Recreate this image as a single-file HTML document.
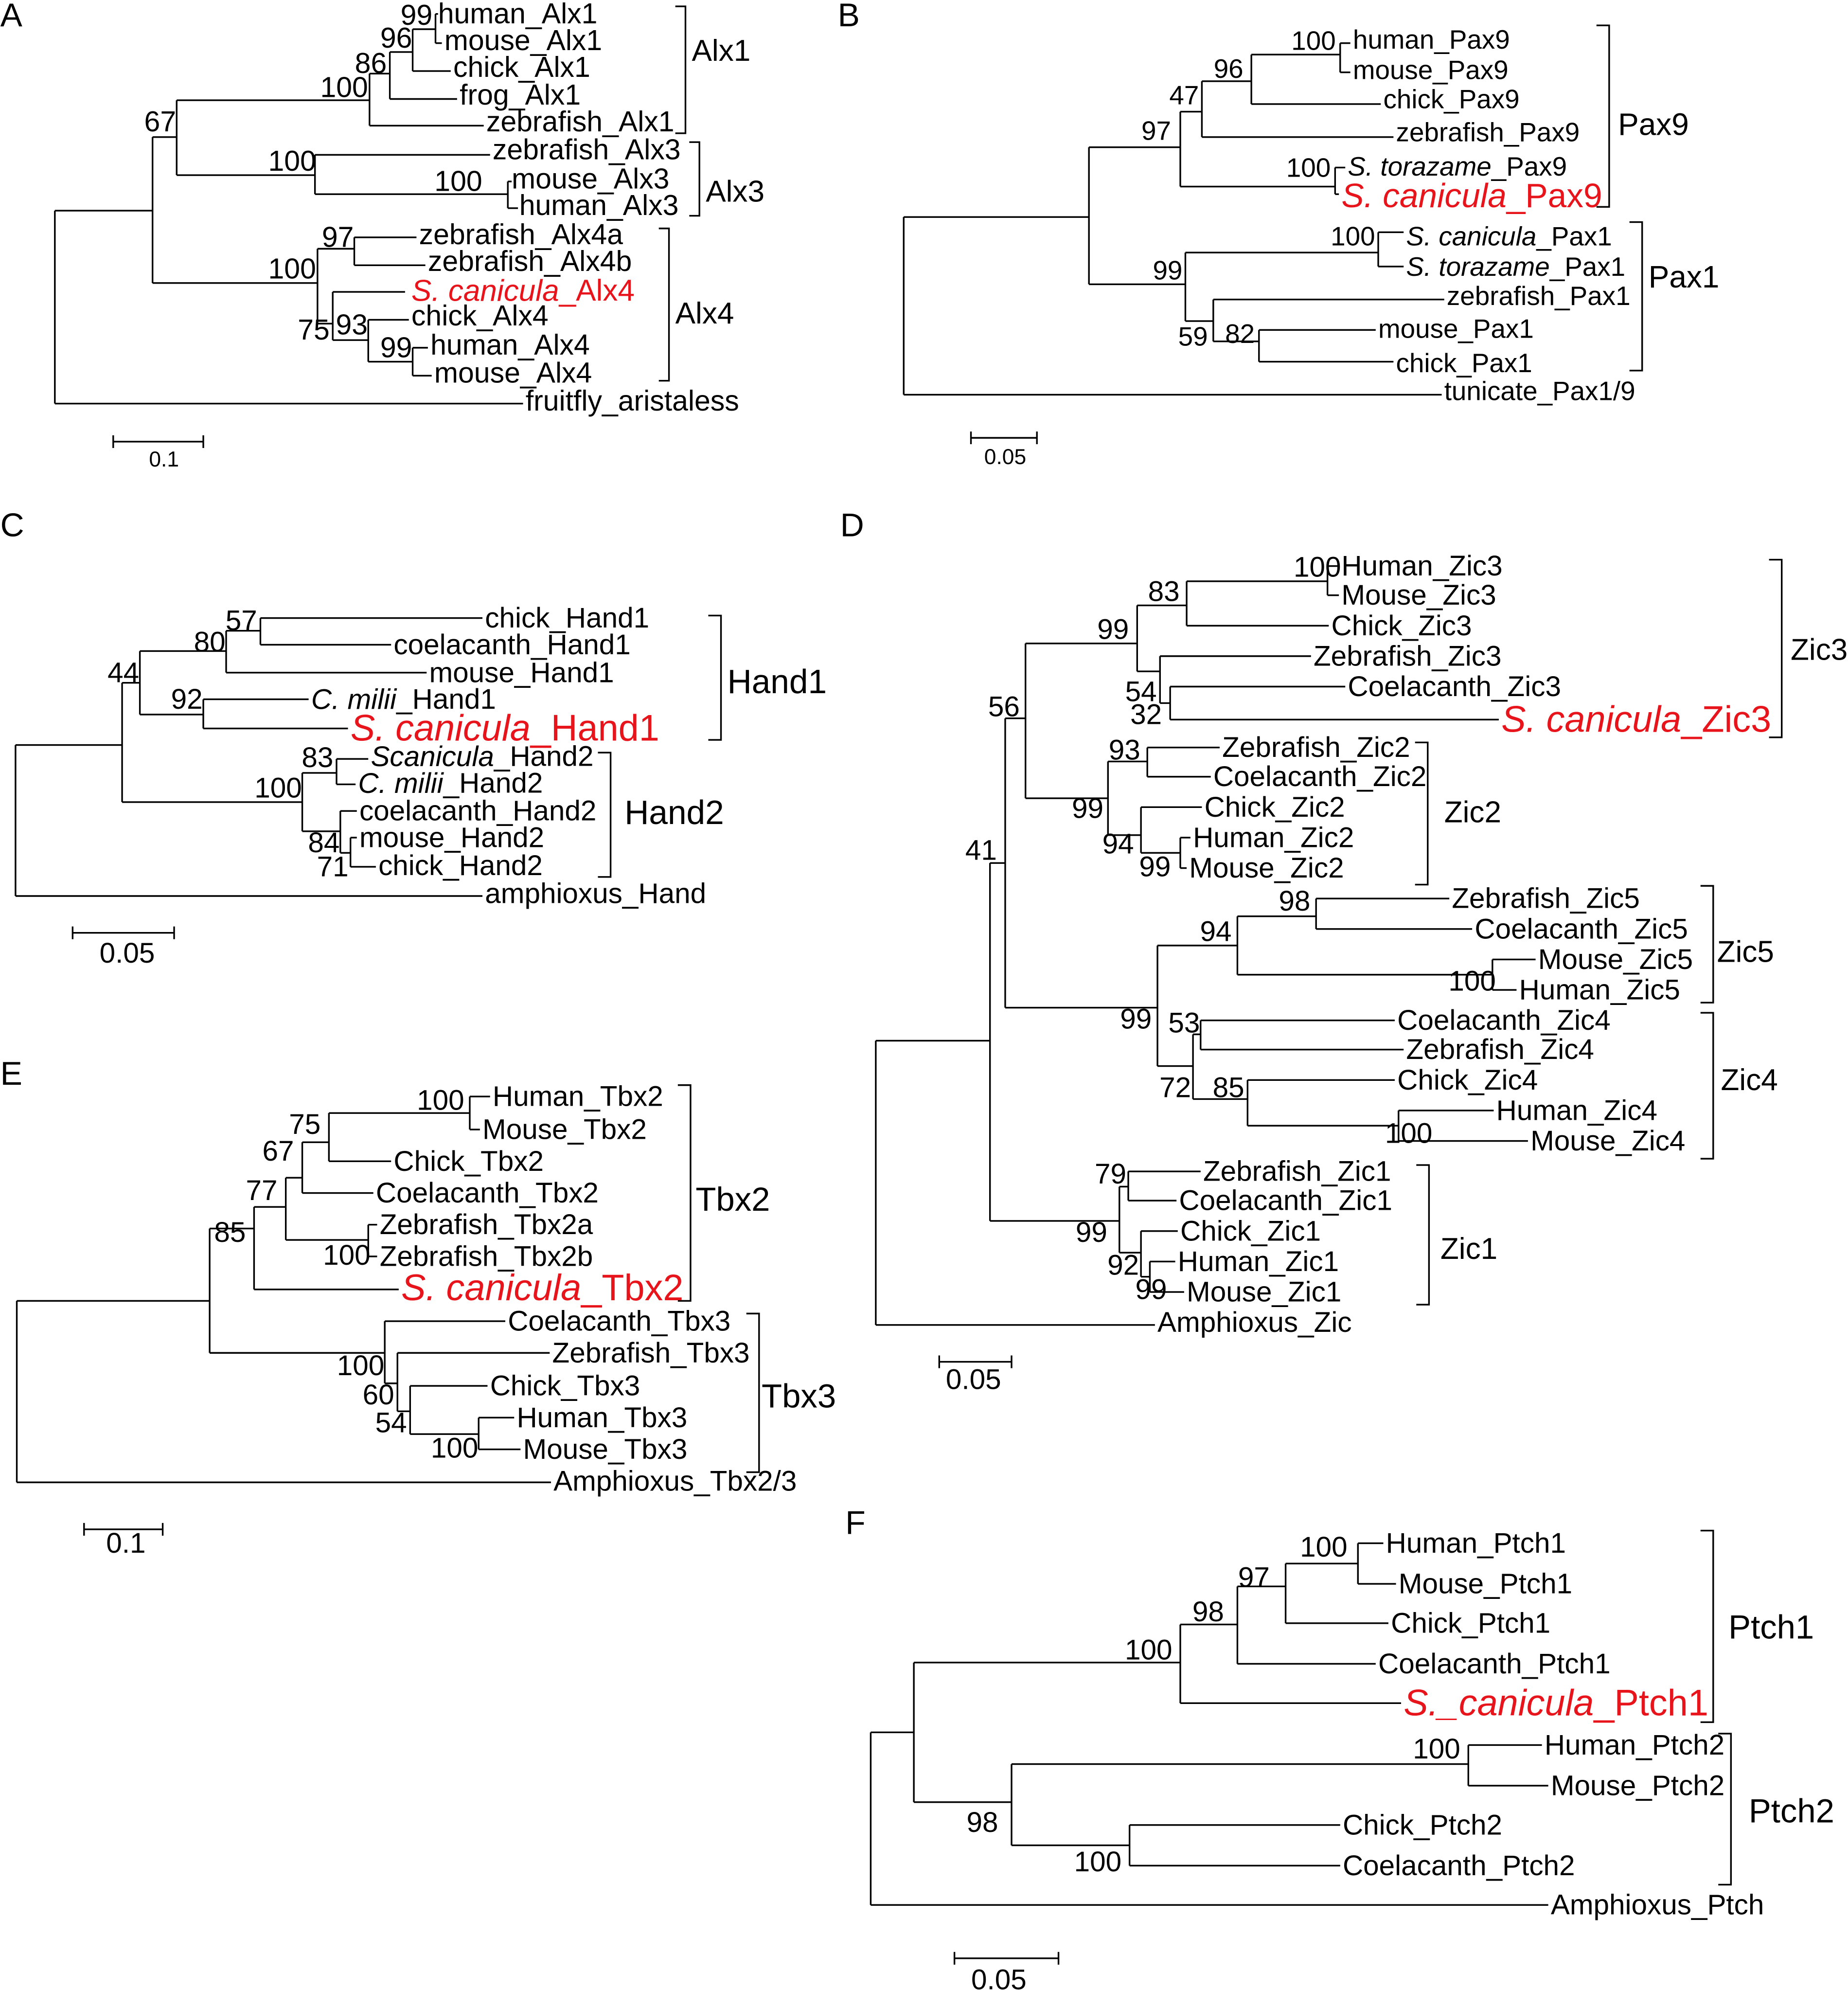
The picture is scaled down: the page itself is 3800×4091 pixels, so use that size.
<!DOCTYPE html>
<html><head><meta charset="utf-8"><style>
html,body{margin:0;padding:0;background:#fff}
svg{display:block}
text{font-family:"Liberation Sans",Arial,sans-serif;font-size:22.4px;fill:#000;dominant-baseline:central}
.pB text{font-size:21px}
.pA text{font-size:22.6px}
.b{text-anchor:middle}
.r{fill:#e8141b}
</style></head><body>
<svg width="3800" height="4091" viewBox="0 0 1456 1568" xmlns="http://www.w3.org/2000/svg">
<g fill="none" stroke="#000" stroke-width="1.3">
<!-- A -->
<path d="M43 166 V318 M43 318 H412 M43 166 H120 M120 108 V223 M120 108 H139 M139 79 V138 M139 79 H291 M291 58 V99 M291 99 H381 M291 58 H307 M307 41 V78 M307 78 H360 M307 41 H325 M325 23 V56 M325 56 H355 M325 23 H343 M343 11 V34 M343 11 H345 M343 34 H348 M139 138 H248 M248 122 V153 M248 122 H386 M248 153 H400 M400 143 V164 M400 143 H403 M400 164 H408 M120 223 H250 M250 196 V255 M250 196 H279 M279 187 V209 M279 187 H328 M279 209 H335 M250 255 H262 M262 230 V268 M262 230 H319 M262 268 H290 M290 252 V285 M290 252 H322 M290 285 H325 M325 274 V296 M325 274 H337 M325 296 H340"/>
<path d="M532 5 H540 V105 H532 M543 112 H551 V170 H543 M519 180 H527 V300 H519"/>
<path d="M89 343 V353 M89 348 H160 M160 343 V353"/>
<!-- B -->
<path d="M712 171 V311 M712 311 H1136 M712 171 H858 M858 116 V224 M858 116 H930 M930 88 V147 M930 88 H947 M947 64 V108 M947 108 H1098 M947 64 H986 M986 43 V82 M986 82 H1088 M986 43 H1056 M1056 34 V57 M1056 34 H1064 M1056 57 H1064 M930 147 H1052 M1052 132 V153 M1052 132 H1060 M1052 153 H1055 M858 224 H934 M934 199 V253 M934 199 H1086 M1086 183 V210 M1086 183 H1106 M1086 210 H1106 M934 253 H956 M956 236 V269 M956 236 H1138 M956 269 H992 M992 260 V285 M992 260 H1084 M992 285 H1098"/>
<path d="M1258 20 H1268 V163 H1258 M1284 175 H1294 V292 H1284"/>
<path d="M765 340 V350 M765 345 H817 M817 340 V350"/>
<!-- C -->
<path d="M12 587 V706 M12 706 H380 M12 587 H96 M96 538 V632 M96 538 H110 M110 513 V563 M110 513 H178 M178 497 V530 M178 497 H205 M205 487 V508 M205 487 H380 M205 508 H308 M178 530 H336 M110 563 H160 M160 551 V574 M160 551 H243 M160 574 H274 M96 632 H238 M238 609 V655 M238 609 H265 M265 598 V618 M265 598 H290 M265 618 H280 M238 655 H268 M268 639 V672 M268 639 H281 M268 672 H276 M276 660 V683 M276 660 H281 M276 683 H296"/>
<path d="M558 485 H568 V583 H558 M471 593 H481 V691 H471"/>
<path d="M57 730 V740 M57 735 H137 M137 730 V740"/>
<!-- D -->
<path d="M690 820 V1044 M690 1044 H910 M690 820 H780 M780 680 V962 M780 680 H792 M792 566 V794 M792 566 H808 M808 507 V629 M808 507 H896 M896 477 V529 M896 477 H935 M935 458 V493 M935 493 H1047 M935 458 H1046 M1046 446 V469 M1046 446 H1055 M1046 469 H1055 M896 529 H914 M914 517 V554 M914 517 H1033 M914 554 H922 M922 541 V567 M922 541 H1060 M922 567 H1181 M808 629 H873 M873 600 V658 M873 600 H904 M904 589 V612 M904 589 H961 M904 612 H954 M873 658 H899 M899 636 V672 M899 636 H947 M899 672 H930 M930 660 V684 M930 660 H938 M930 684 H935 M792 794 H912 M912 745 V840 M912 745 H975 M975 722 V768 M975 722 H1037 M1037 708 V732 M1037 708 H1142 M1037 732 H1160 M975 768 H1176 M1176 756 V780 M1176 756 H1210 M1176 780 H1195 M912 840 H940 M940 815 V866 M940 815 H946 M946 804 V827 M946 804 H1099 M946 827 H1106 M940 866 H983 M983 851 V887 M983 851 H1099 M983 887 H1102 M1102 875 V899 M1102 875 H1177 M1102 899 H1204 M780 962 H882 M882 935 V987 M882 935 H889 M889 923 V946 M889 923 H946 M889 946 H927 M882 987 H899 M899 970 V1006 M899 970 H928 M899 1006 H906 M906 994 V1018 M906 994 H926 M906 1018 H933"/>
<path d="M1394 441 H1404 V581 H1394 M1115 585 H1125 V697 H1115 M1340 698 H1350 V790 H1340 M1340 798 H1350 V913 H1340 M1116 918 H1126 V1028 H1116"/>
<path d="M740 1068 V1078 M740 1073 H797 M797 1068 V1078"/>
<!-- E -->
<path d="M13 1025 V1168 M13 1168 H434 M13 1025 H165 M165 968 V1066 M165 968 H200 M200 951 V1016 M200 1016 H314 M200 951 H225 M225 928 V977 M225 928 H238 M238 900 V940 M238 940 H294 M238 900 H259 M259 877 V915 M259 915 H308 M259 877 H370 M370 864 V890 M370 864 H386 M370 890 H378 M225 977 H290 M290 965 V990 M290 965 H297 M290 990 H297 M165 1066 H303 M303 1041 V1090 M303 1041 H398 M303 1090 H313 M313 1066 V1112 M313 1066 H433 M313 1112 H323 M323 1092 V1130 M323 1092 H384 M323 1130 H377 M377 1117 V1142 M377 1117 H405 M377 1142 H410"/>
<path d="M534 855 H544 V1025 H534 M588 1035 H598 V1160 H588"/>
<path d="M66 1200 V1210 M66 1205 H128 M128 1200 V1210"/>
<!-- F -->
<path d="M686 1365 V1501 M686 1501 H1220 M686 1365 H720 M720 1310 V1420 M720 1310 H930 M930 1280 V1342 M930 1342 H1104 M930 1280 H975 M975 1250 V1311 M975 1311 H1084 M975 1250 H1013 M1013 1232 V1279 M1013 1279 H1094 M1013 1232 H1070 M1070 1216 V1248 M1070 1216 H1090 M1070 1248 H1100 M720 1420 H797 M797 1390 V1454 M797 1390 H1157 M1157 1375 V1407 M1157 1375 H1215 M1157 1407 H1220 M797 1454 H890 M890 1438 V1470 M890 1438 H1056 M890 1470 H1056"/>
<path d="M1340 1206 H1350 V1357 H1340 M1354 1366 H1364 V1485 H1354"/>
<path d="M752 1538 V1548 M752 1543 H834 M834 1538 V1548"/>
</g>

<!-- panel letters -->
<g style="font-size:26px">
<text x="0" y="12" style="font-size:26px">A</text>
<text x="660" y="12" style="font-size:26px">B</text>
<text x="0" y="414" style="font-size:26px">C</text>
<text x="662" y="414" style="font-size:26px">D</text>
<text x="0" y="846" style="font-size:26px">E</text>
<text x="666" y="1200" style="font-size:26px">F</text>
</g>

<!-- A text -->
<g class="pA">
<text x="345" y="11">human_Alx1</text>
<text x="350" y="32">mouse_Alx1</text>
<text x="357" y="53">chick_Alx1</text>
<text x="362" y="75">frog_Alx1</text>
<text x="383" y="96">zebrafish_Alx1</text>
<text x="388" y="118">zebrafish_Alx3</text>
<text x="403" y="141">mouse_Alx3</text>
<text x="409" y="162">human_Alx3</text>
<text x="330" y="185">zebrafish_Alx4a</text>
<text x="337" y="206">zebrafish_Alx4b</text>
<text x="324" y="229" class="r" style="font-size:23.8px"><tspan font-style="italic">S. canicula</tspan>_Alx4</text>
<text x="324" y="249">chick_Alx4</text>
<text x="339" y="272">human_Alx4</text>
<text x="342" y="294">mouse_Alx4</text>
<text x="414" y="316">fruitfly_aristaless</text>
<text x="545" y="40" style="font-size:23.8px">Alx1</text>
<text x="556" y="151" style="font-size:23.8px">Alx3</text>
<text x="532" y="247" style="font-size:23.8px">Alx4</text>
<text class="b" x="129" y="362" style="font-size:17px">0.1</text>
<text class="b" x="328" y="12">99</text>
<text class="b" x="312" y="30">96</text>
<text class="b" x="292" y="50">86</text>
<text class="b" x="271" y="69">100</text>
<text class="b" x="126" y="96">67</text>
<text class="b" x="230" y="127">100</text>
<text class="b" x="361" y="143">100</text>
<text class="b" x="266" y="187">97</text>
<text class="b" x="230" y="212">100</text>
<text class="b" x="277" y="256">93</text>
<text class="b" x="247" y="260">75</text>
<text class="b" x="312" y="274">99</text>
</g>

<!-- B text -->
<g class="pB">
<text x="1066" y="31">human_Pax9</text>
<text x="1066" y="55">mouse_Pax9</text>
<text x="1090" y="78">chick_Pax9</text>
<text x="1100" y="104">zebrafish_Pax9</text>
<text x="1062" y="131"><tspan font-style="italic">S. torazame</tspan>_Pax9</text>
<text x="1057" y="154" class="r" style="font-size:26.6px"><tspan font-style="italic">S. canicula</tspan>_Pax9</text>
<text x="1108" y="186"><tspan font-style="italic">S. canicula</tspan>_Pax1</text>
<text x="1108" y="210"><tspan font-style="italic">S. torazame</tspan>_Pax1</text>
<text x="1140" y="233">zebrafish_Pax1</text>
<text x="1086" y="259">mouse_Pax1</text>
<text x="1100" y="286">chick_Pax1</text>
<text x="1138" y="308">tunicate_Pax1/9</text>
<text x="1275" y="98" style="font-size:24.5px">Pax9</text>
<text x="1299" y="218" style="font-size:24.5px">Pax1</text>
<text class="b" x="792" y="360" style="font-size:17px">0.05</text>
<text class="b" x="1035" y="32">100</text>
<text class="b" x="968" y="54">96</text>
<text class="b" x="933" y="75">47</text>
<text class="b" x="911" y="103">97</text>
<text class="b" x="1031" y="132">100</text>
<text class="b" x="1066" y="186">100</text>
<text class="b" x="920" y="213">99</text>
<text class="b" x="940" y="265">59</text>
<text class="b" x="977" y="263">82</text>
</g>

<!-- C text -->
<text x="382" y="487">chick_Hand1</text>
<text x="310" y="508">coelacanth_Hand1</text>
<text x="338" y="530">mouse_Hand1</text>
<text x="245" y="551"><tspan font-style="italic">C. milii</tspan>_Hand1</text>
<text x="276" y="574" class="r" style="font-size:29px"><tspan font-style="italic">S. canicula</tspan>_Hand1</text>
<text x="292" y="596"><tspan font-style="italic">Scanicula</tspan>_Hand2</text>
<text x="282" y="617"><tspan font-style="italic">C. milii</tspan>_Hand2</text>
<text x="283" y="639">coelacanth_Hand2</text>
<text x="283" y="660">mouse_Hand2</text>
<text x="298" y="682">chick_Hand2</text>
<text x="382" y="704">amphioxus_Hand</text>
<text x="573" y="537" style="font-size:26.6px">Hand1</text>
<text x="492" y="640" style="font-size:26.6px">Hand2</text>
<text class="b" x="100" y="751">0.05</text>
<text class="b" x="190" y="489">57</text>
<text class="b" x="165" y="506">80</text>
<text class="b" x="97" y="530">44</text>
<text class="b" x="147" y="551">92</text>
<text class="b" x="250" y="597">83</text>
<text class="b" x="219" y="621">100</text>
<text class="b" x="255" y="664">84</text>
<text class="b" x="262" y="683">71</text>

<!-- D text -->
<text x="1057" y="446">Human_Zic3</text>
<text x="1057" y="469">Mouse_Zic3</text>
<text x="1049" y="493">Chick_Zic3</text>
<text x="1035" y="517">Zebrafish_Zic3</text>
<text x="1062" y="541">Coelacanth_Zic3</text>
<text x="1183" y="567" class="r" style="font-size:29px"><tspan font-style="italic">S. canicula</tspan>_Zic3</text>
<text x="963" y="589">Zebrafish_Zic2</text>
<text x="956" y="612">Coelacanth_Zic2</text>
<text x="949" y="636">Chick_Zic2</text>
<text x="940" y="660">Human_Zic2</text>
<text x="937" y="684">Mouse_Zic2</text>
<text x="1144" y="708">Zebrafish_Zic5</text>
<text x="1162" y="732">Coelacanth_Zic5</text>
<text x="1212" y="756">Mouse_Zic5</text>
<text x="1197" y="780">Human_Zic5</text>
<text x="1101" y="804">Coelacanth_Zic4</text>
<text x="1108" y="827">Zebrafish_Zic4</text>
<text x="1101" y="851">Chick_Zic4</text>
<text x="1179" y="875">Human_Zic4</text>
<text x="1206" y="899">Mouse_Zic4</text>
<text x="948" y="923">Zebrafish_Zic1</text>
<text x="929" y="946">Coelacanth_Zic1</text>
<text x="930" y="970">Chick_Zic1</text>
<text x="928" y="994">Human_Zic1</text>
<text x="935" y="1018">Mouse_Zic1</text>
<text x="912" y="1042">Amphioxus_Zic</text>
<text x="1411" y="512" style="font-size:23.8px">Zic3</text>
<text x="1138" y="640" style="font-size:23.8px">Zic2</text>
<text x="1353" y="750" style="font-size:23.8px">Zic5</text>
<text x="1356" y="851" style="font-size:23.8px">Zic4</text>
<text x="1135" y="984" style="font-size:23.8px">Zic1</text>
<text class="b" x="767" y="1087">0.05</text>
<text class="b" x="1038" y="447">100</text>
<text class="b" x="917" y="466">83</text>
<text class="b" x="877" y="496">99</text>
<text class="b" x="791" y="557">56</text>
<text class="b" x="899" y="545">54</text>
<text class="b" x="903" y="563">32</text>
<text class="b" x="886" y="591">93</text>
<text class="b" x="857" y="637">99</text>
<text class="b" x="881" y="665">94</text>
<text class="b" x="910" y="683">99</text>
<text class="b" x="773" y="670">41</text>
<text class="b" x="1020" y="710">98</text>
<text class="b" x="958" y="734">94</text>
<text class="b" x="1160" y="773">100</text>
<text class="b" x="895" y="803">99</text>
<text class="b" x="933" y="806">53</text>
<text class="b" x="926" y="857">72</text>
<text class="b" x="968" y="857">85</text>
<text class="b" x="1110" y="893">100</text>
<text class="b" x="875" y="925">79</text>
<text class="b" x="860" y="971">99</text>
<text class="b" x="885" y="997">92</text>
<text class="b" x="907" y="1016">99</text>

<!-- E text -->
<text x="388" y="864">Human_Tbx2</text>
<text x="380" y="890">Mouse_Tbx2</text>
<text x="310" y="915">Chick_Tbx2</text>
<text x="296" y="940">Coelacanth_Tbx2</text>
<text x="299" y="965">Zebrafish_Tbx2a</text>
<text x="299" y="990">Zebrafish_Tbx2b</text>
<text x="316" y="1015" class="r" style="font-size:29px"><tspan font-style="italic">S. canicula</tspan>_Tbx2</text>
<text x="400" y="1041">Coelacanth_Tbx3</text>
<text x="435" y="1066">Zebrafish_Tbx3</text>
<text x="386" y="1092">Chick_Tbx3</text>
<text x="407" y="1117">Human_Tbx3</text>
<text x="412" y="1142">Mouse_Tbx3</text>
<text x="436" y="1167">Amphioxus_Tbx2/3</text>
<text x="548" y="945" style="font-size:26.4px">Tbx2</text>
<text x="600" y="1100" style="font-size:26.4px">Tbx3</text>
<text class="b" x="99" y="1216">0.1</text>
<text class="b" x="347" y="867">100</text>
<text class="b" x="240" y="886">75</text>
<text class="b" x="219" y="907">67</text>
<text class="b" x="206" y="938">77</text>
<text class="b" x="181" y="971">85</text>
<text class="b" x="273" y="989">100</text>
<text class="b" x="284" y="1076">100</text>
<text class="b" x="298" y="1099">60</text>
<text class="b" x="308" y="1121">54</text>
<text class="b" x="358" y="1141">100</text>

<!-- F text -->
<text x="1092" y="1216">Human_Ptch1</text>
<text x="1102" y="1248">Mouse_Ptch1</text>
<text x="1096" y="1279">Chick_Ptch1</text>
<text x="1086" y="1311">Coelacanth_Ptch1</text>
<text x="1106" y="1342" class="r" style="font-size:29px"><tspan font-style="italic">S._canicula</tspan>_Ptch1</text>
<text x="1217" y="1375">Human_Ptch2</text>
<text x="1222" y="1407">Mouse_Ptch2</text>
<text x="1058" y="1438">Chick_Ptch2</text>
<text x="1058" y="1470">Coelacanth_Ptch2</text>
<text x="1222" y="1501">Amphioxus_Ptch</text>
<text x="1362" y="1282" style="font-size:26.4px">Ptch1</text>
<text x="1378" y="1427" style="font-size:26.4px">Ptch2</text>
<text class="b" x="787" y="1560">0.05</text>
<text class="b" x="1043" y="1219">100</text>
<text class="b" x="988" y="1243">97</text>
<text class="b" x="952" y="1270">98</text>
<text class="b" x="905" y="1300">100</text>
<text class="b" x="1132" y="1378">100</text>
<text class="b" x="774" y="1436">98</text>
<text class="b" x="865" y="1467">100</text>
</svg>
</body></html>
